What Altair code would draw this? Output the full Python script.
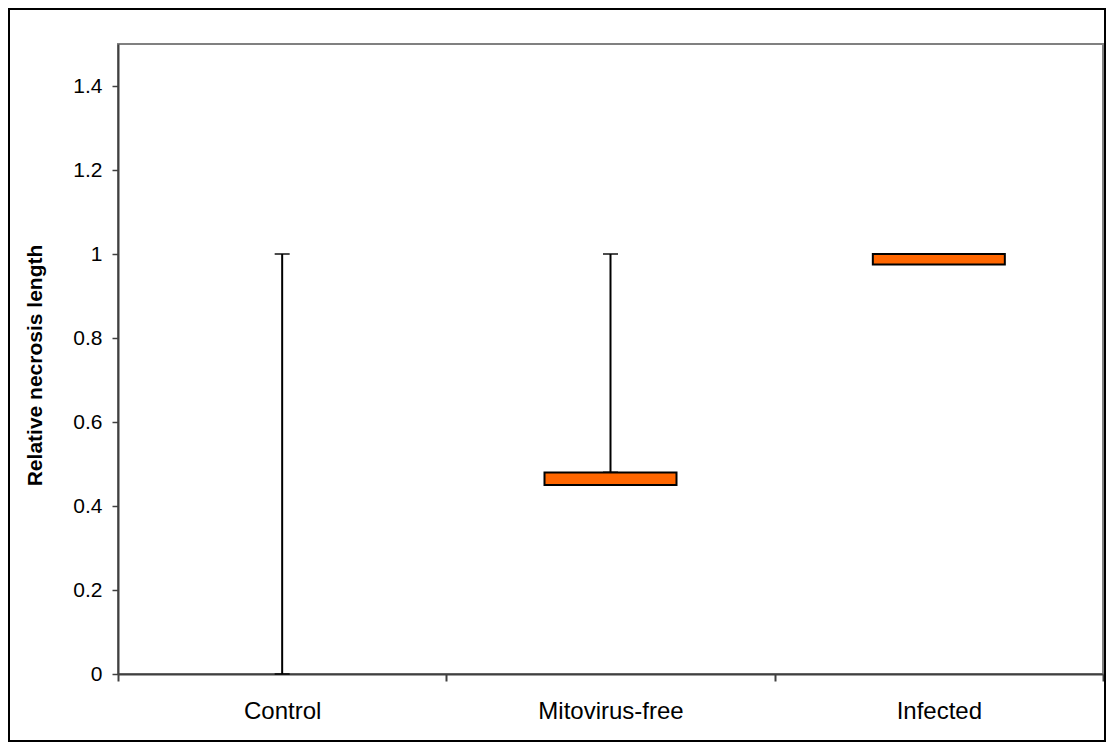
import altair as alt
import pandas as pd

categories = ["Control", "Mitovirus-free", "Infected"]
whisker_cat = ["Control", "Mitovirus-free"]
whisker_low = [0.0, 0.48]
whisker_high = [1.0, 1.0]
box_cat = ["Mitovirus-free", "Infected"]
box_low = [0.45, 0.975]
box_high = [0.48, 1.0]
y_ticks = [0, 0.2, 0.4, 0.6, 0.8, 1.0, 1.2, 1.4]

whisk = pd.DataFrame({"cat": whisker_cat, "low": whisker_low, "high": whisker_high})
caps = pd.DataFrame({"cat": whisker_cat * 2, "v": whisker_low + whisker_high})
boxes = pd.DataFrame({"cat": box_cat, "low": box_low, "high": box_high})

FONT = "Liberation Sans"

x_enc = alt.X(
    "cat:N",
    sort=categories,
    scale=alt.Scale(domain=categories, paddingInner=0, paddingOuter=0),
    axis=alt.Axis(
        title=None, labelAngle=0, tickBand="extent", tickSize=7, tickWidth=2,
        tickColor="#404040", domainColor="#404040", domainWidth=2,
        labelFont=FONT, labelFontSize=24, labelColor="black", labelPadding=18,
    ),
)
y_scale = alt.Scale(domain=[0, 1.5], nice=False, zero=True)
y_axis = alt.Axis(
    values=y_ticks, format="~g", grid=False, title="Relative necrosis length",
    titleFont=FONT, titleFontSize=21, titleFontWeight="bold", titleColor="black",
    titleX=-83, titleY=321, titleAngle=-90, titleAlign="center", titleBaseline="middle",
    tickSize=6, tickWidth=1.5, tickColor="#404040", domainColor="#404040", domainWidth=2,
    labelFont=FONT, labelFontSize=21, labelColor="black", labelPadding=10,
)

rules = alt.Chart(whisk).mark_rule(color="black", strokeWidth=2).encode(
    x=x_enc, y=alt.Y("low:Q", scale=y_scale, axis=y_axis), y2="high:Q"
)
cap_marks = alt.Chart(caps).mark_tick(color="black", size=15, thickness=2).encode(
    x=alt.X("cat:N", sort=categories), y=alt.Y("v:Q", scale=y_scale)
)
bars = alt.Chart(boxes).mark_bar(
    size=132, color="#FF6600", stroke="black", strokeWidth=2
).encode(
    x=alt.X("cat:N", sort=categories), y=alt.Y("low:Q", scale=y_scale), y2="high:Q"
)
frame = alt.Chart(pd.DataFrame({"a": [0]})).mark_rect(
    filled=False, stroke="black", strokeWidth=2
).encode(
    x=alt.value(-109), x2=alt.value(987), y=alt.value(-35), y2=alt.value(697)
)

chart = alt.layer(rules, cap_marks, bars, frame).properties(
    width=985, height=630,
    autosize=alt.AutoSizeParams(type="none"),
    padding={"left": 110, "top": 36, "right": 4, "bottom": 69},
    background="white",
).configure_view(stroke="#808080", strokeWidth=2)

chart.save("out.html", embed_options={"renderer": "svg", "actions": False})
